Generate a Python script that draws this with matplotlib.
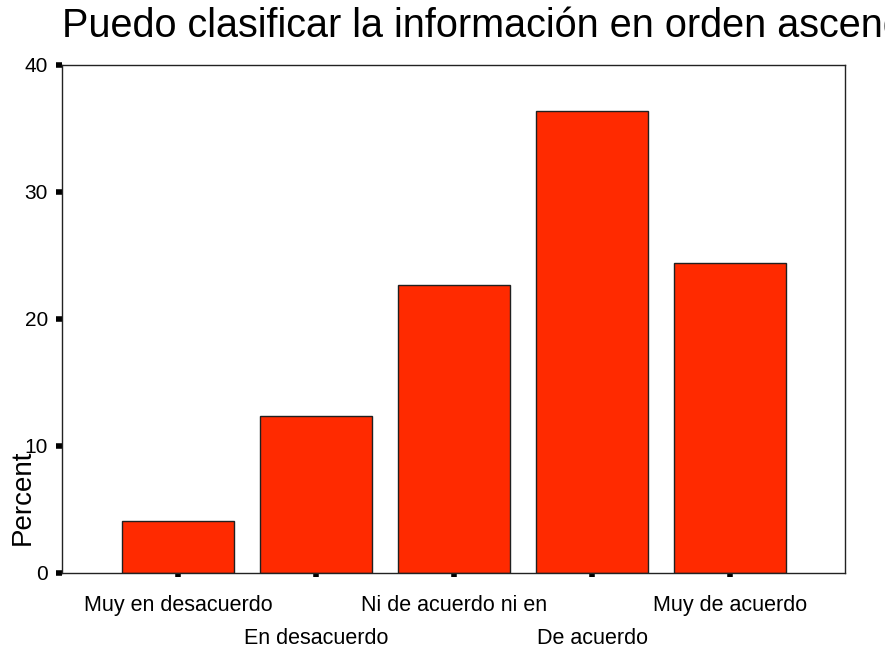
import matplotlib
matplotlib.use("Agg")
import matplotlib.pyplot as plt

categories = ["Muy en desacuerdo", "En desacuerdo", "Ni de acuerdo ni en",
              "De acuerdo", "Muy de acuerdo"]
percent = [4.1, 12.4, 22.7, 36.4, 24.4]
yticks = [0, 10, 20, 30, 40]
title = "Puedo clasificar la información en orden ascendente"

plt.rcParams['font.family'] = ['Liberation Sans', 'DejaVu Sans']

fig = plt.figure(figsize=(8.85, 6.5), dpi=100)
ax = fig.add_axes([62/885, 1 - 573/650, (845-62)/885, (573-65)/650])

x = list(range(len(categories)))
ax.bar(x, percent, width=0.81, color='#FF2A00', edgecolor='#202020', linewidth=1.0, zorder=2)

ax.set_xlim(-0.84, 4.83)
ax.set_ylim(0, 40)
ax.set_yticks(yticks)
ax.set_yticklabels([str(t) for t in yticks], fontsize=15)
ax.set_xticks(x)
labels = [c if i % 2 == 0 else "\n" + c for i, c in enumerate(categories)]
ax.set_xticklabels(labels, fontsize=15.5, linespacing=1.75)

ax.tick_params(axis='y', direction='out', length=4, width=4, pad=6, color='black')
ax.tick_params(axis='x', direction='out', length=3, width=4, pad=13, color='black')

for s in ax.spines.values():
    s.set_linewidth(1.0)
    s.set_color('#222222')

ax.set_ylabel("Percent", fontsize=20, va='center')
ax.yaxis.set_label_coords((23-62)/783, (573-497.5)/508)

fig.text(62/885, 1 - 37/650, title, fontsize=28.5, va='baseline', ha='left')

fig.savefig("out.png", dpi=100)
